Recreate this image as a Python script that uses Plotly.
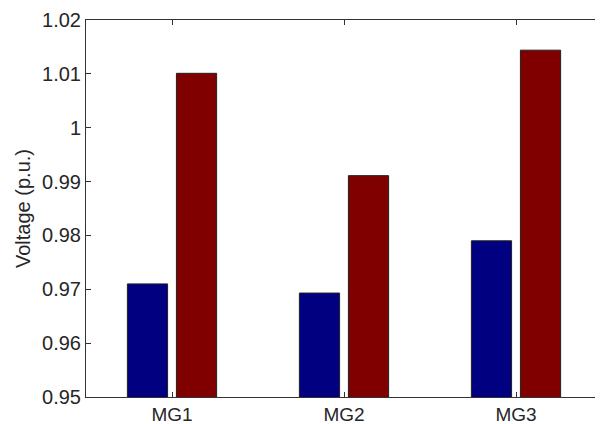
import plotly.graph_objects as go

categories = ["MG1", "MG2", "MG3"]
series_a = [0.9710, 0.9693, 0.9790]
series_b = [1.0101, 0.9911, 1.0144]
y_ticks = [0.95, 0.96, 0.97, 0.98, 0.99, 1.0, 1.01, 1.02]
y_tick_text = ["0.95", "0.96", "0.97", "0.98", "0.99", "1", "1.01", "1.02"]

fig = go.Figure()
fig.add_trace(go.Bar(x=categories, y=series_a, base=0, marker=dict(color="#000080", line=dict(color="#202020", width=1))))
fig.add_trace(go.Bar(x=categories, y=series_b, base=0, marker=dict(color="#800000", line=dict(color="#202020", width=1))))

# page body has an 8px default margin, so the figure is sized to fit the window
font = dict(family="Liberation Sans, Arial, sans-serif", size=20, color="#262626")
xfont = dict(family="Liberation Sans, Arial, sans-serif", size=19, color="#262626")
fig.update_layout(
    width=595, height=416,
    margin=dict(l=78, r=1, t=12, b=27, autoexpand=False),
    paper_bgcolor="white", plot_bgcolor="white",
    barmode="group", bargap=0.43, bargroupgap=0.18,
    showlegend=False,
    font=font,
)
fig.update_xaxes(
    type="category", range=[-0.5, 2.5], automargin=False,
    showline=True, linecolor="#333333", linewidth=1, mirror="ticks",
    ticks="inside", ticklen=5, tickcolor="#333333",
    showgrid=False, zeroline=False, tickfont=xfont, ticklabelstandoff=0,
)
fig.update_yaxes(
    range=[0.95, 1.02], tickvals=y_ticks, ticktext=y_tick_text, automargin=False,
    showline=True, linecolor="#333333", linewidth=1, mirror="ticks",
    ticks="inside", ticklen=5, tickcolor="#333333",
    showgrid=False, zeroline=False, tickfont=font,
    title=dict(text="Voltage (p.u.)", font=dict(family="Liberation Sans, Arial, sans-serif", size=20, color="#262626"), standoff=6),
)
fig.write_html("out.html")
